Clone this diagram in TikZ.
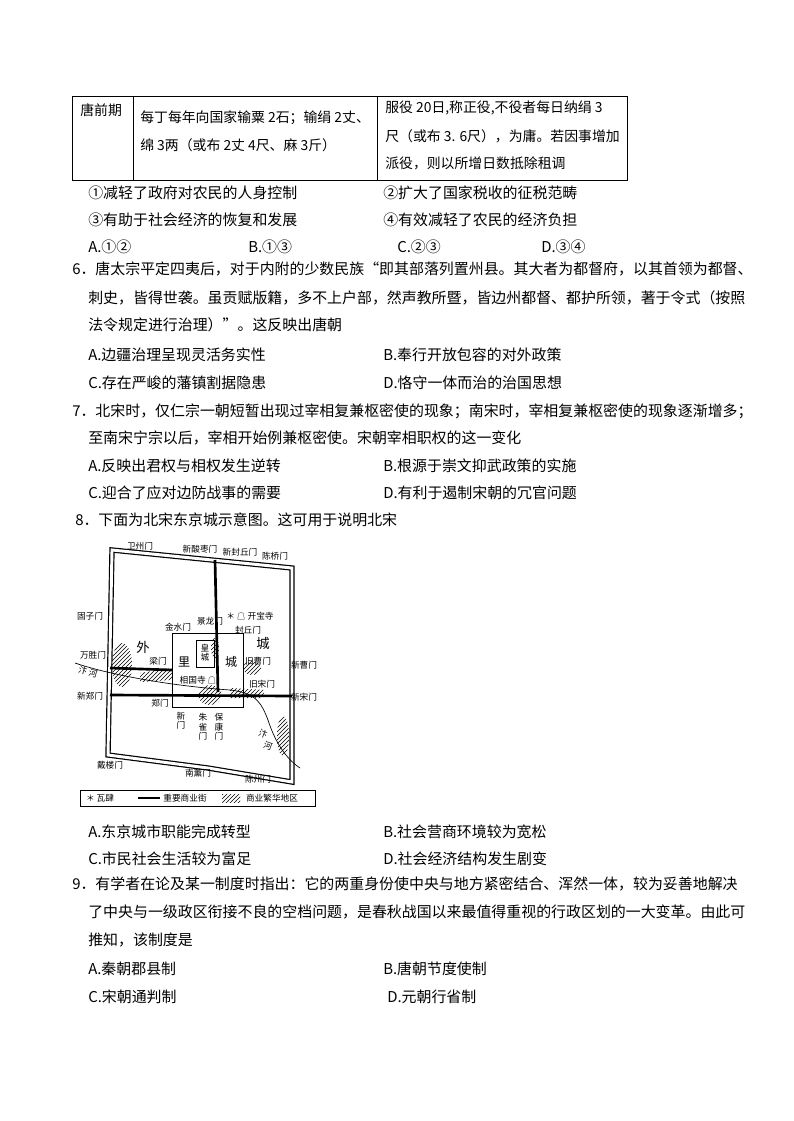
\documentclass[tikz,border=0pt]{standalone}
\usepackage{fontspec}
\setmainfont{Noto Sans CJK SC}
\usetikzlibrary{patterns}
\begin{document}
\begin{tikzpicture}[x=0.75pt,y=-0.75pt,
 tx/.style={anchor=west,inner sep=0pt,font=\fontsize{11.2}{13}\selectfont},
 tb/.style={anchor=west,inner sep=0pt,font=\fontsize{10.4}{13}\selectfont},
 ml/.style={inner sep=0pt,font=\fontsize{6.5}{7}\selectfont},
 street/.style={line width=2pt},
 hatch/.style={pattern=north east lines,draw=none}]
\useasboundingbox[fill=white] (0,0) rectangle (793,1121);
% table
\draw[line width=0.6pt] (72,96) rectangle (627,180) (133,96)--(133,180) (377,96)--(377,180);
\node[tb] (r0) at (80,110) {唐前期};
\node[tb] (r1) at (140,118) {每丁每年向国家输粟 2石；输绢 2丈、};
\node[tb] (r2) at (140,145) {绵 3两（或布 2丈 4尺、麻 3斤）};
\node[tb] (r3) at (385,108) {服役 20日,称正役,不役者每日纳绢 3};
\node[tb] (r4) at (385,136) {尺（或布 3. 6尺），为庸。若因事增加};
\node[tb] (r5) at (385,163) {派役，则以所增日数抵除租调};
\node[tx] (o1) at (88,193) {①减轻了政府对农民的人身控制};
\node[tx] (o2) at (383,193) {②扩大了国家税收的征税范畴};
\node[tx] (o3) at (88,220) {③有助于社会经济的恢复和发展};
\node[tx] (o4) at (383,220) {④有效减轻了农民的经济负担};
\node[tx] (a5) at (88,247) {A.①②};
\node[tx] (b5) at (248,247) {B.①③};
\node[tx] (c5) at (397,247) {C.②③};
\node[tx] (d5) at (541,247) {D.③④};
% Q6
\node[tx] (q6a) at (72,269) {6．唐太宗平定四夷后，对于内附的少数民族“即其部落列置州县。其大者为都督府，以其首领为都督、};
\node[tx] (q6b) at (88,298) {刺史，皆得世袭。虽贡赋版籍，多不上户部，然声教所暨，皆边州都督、都护所领，著于令式（按照};
\node[tx] (q6c) at (88,325) {法令规定进行治理）”。这反映出唐朝};
\node[tx] (a6) at (88,355) {A.边疆治理呈现灵活务实性};
\node[tx] (b6) at (383,355) {B.奉行开放包容的对外政策};
\node[tx] (c6) at (88,383) {C.存在严峻的藩镇割据隐患};
\node[tx] (d6) at (383,383) {D.恪守一体而治的治国思想};
% Q7
\node[tx] (q7a) at (72,411) {7．北宋时，仅仁宗一朝短暂出现过宰相复兼枢密使的现象；南宋时，宰相复兼枢密使的现象逐渐增多；};
\node[tx] (q7b) at (88,438) {至南宋宁宗以后，宰相开始例兼枢密使。宋朝宰相职权的这一变化};
\node[tx] (a7) at (88,466) {A.反映出君权与相权发生逆转};
\node[tx] (b7) at (383,466) {B.根源于崇文抑武政策的实施};
\node[tx] (c7) at (88,493) {C.迎合了应对边防战事的需要};
\node[tx] (d7) at (383,493) {D.有利于遏制宋朝的冗官问题};
\node[tx] (q8) at (75,520) {8．下面为北宋东京城示意图。这可用于说明北宋};
% map
\fill[hatch] (122,665) ellipse (10 and 22);
\fill[hatch] (140,673) -- (172,668) -- (172,680) -- (140,682) -- cycle;
\fill[hatch] (252,668) ellipse (9 and 7);
\fill[hatch] (210,695) ellipse (12 and 10);
\fill[hatch] (215,648) ellipse (4 and 10);
\fill[hatch] (230,688) -- (265,690) -- (262,698) -- (230,698) -- cycle;
\fill[hatch] (283,736) ellipse (6 and 20);
\draw[double=white,double distance=2.2pt,line width=0.9pt] (112,550) -- (292,568) -- (292,782) -- (208,768) -- (108,755) -- cycle;
\draw[line width=0.7pt] (172,633) rectangle (243,707);
\draw[line width=0.7pt] (196,640) rectangle (214,667);
\node[ml,align=center] (hc) at (205,653) {皇\\城};
\draw[line width=0.5pt] (75,663) .. controls (110,675) and (172,686) .. (230,690) .. controls (258,693) and (262,705) .. (268,720) .. controls (276,745) and (288,760) .. (300,768);
\draw[street] (215,560) -- (218,692);
\draw[street] (110,668) -- (172,670);
\draw[street] (110,695) -- (292,696);
\node[ml] (n1) at (140,546) {卫州门};
\node[ml] (n2) at (200,549) {新酸枣门};
\node[ml] (n3) at (240,552) {新封丘门};
\node[ml] (n4) at (275,556) {陈桥门};
\node[ml] (n5) at (90,616) {固子门};
\node[ml] (n6) at (250,616) {＊ ☖ 开宝寺};
\node[ml] (n7) at (210,621) {景龙门};
\node[ml] (n8) at (178,627) {金水门};
\node[ml] (n9) at (248,630) {封丘门};
\node[ml,font=\fontsize{10}{10}\selectfont] (n10) at (143,647) {外};
\node[ml,font=\fontsize{10}{10}\selectfont] (n11) at (263,643) {城};
\node[ml] (n12) at (93,655) {万胜门};
\node[ml] (n13) at (158,661) {梁门};
\node[ml,font=\fontsize{9}{9}\selectfont] (n14) at (184,662) {里};
\node[ml,font=\fontsize{9}{9}\selectfont] (n15) at (231,662) {城};
\node[ml] (n16) at (258,661) {旧曹门};
\node[ml] (n17) at (304,665) {新曹门};
\node[ml,rotate=-15] (n18) at (88,672) {汴 河};
\node[ml] (n19) at (198,680) {相国寺 ☖};
\node[ml] (n20) at (262,684) {旧宋门};
\node[ml] (n21) at (90,696) {新郑门};
\node[ml] (n22) at (304,697) {新宋门};
\node[ml] (n23) at (160,703) {郑门};
\node[ml,align=center] (n24) at (181,721) {新\\门};
\node[ml,align=center] (n25) at (203,727) {朱\\雀\\门};
\node[ml,align=center] (n26) at (219,727) {保\\康\\门};
\node[ml,rotate=-20] (n27a) at (263,734) {汴};
\node[ml,rotate=-20] (n27b) at (268,746) {河};
\node[ml] (n28) at (110,765) {戴楼门};
\node[ml] (n29) at (198,773) {南薰门};
\node[ml] (n30) at (258,779) {陈州门};
\draw[line width=0.6pt] (80,790) rectangle (315,806);
\node[ml] (lg1) at (100,798) {＊ 瓦肆};
\draw[street] (138,798) -- (160,798);
\node[ml] (lg2) at (185,798) {重要商业街};
\fill[hatch] (222,794) rectangle (240,802);
\node[ml] (lg3) at (272,798) {商业繁华地区};
% Q8 options
\node[tx] (a8) at (88,832) {A.东京城市职能完成转型};
\node[tx] (b8) at (383,832) {B.社会营商环境较为宽松};
\node[tx] (c8) at (88,859) {C.市民社会生活较为富足};
\node[tx] (d8) at (383,859) {D.社会经济结构发生剧变};
% Q9
\node[tx] (q9a) at (72,884) {9．有学者在论及某一制度时指出：它的两重身份使中央与地方紧密结合、浑然一体，较为妥善地解决};
\node[tx] (q9b) at (88,912) {了中央与一级政区衔接不良的空档问题，是春秋战国以来最值得重视的行政区划的一大变革。由此可};
\node[tx] (q9c) at (88,940) {推知，该制度是};
\node[tx] (a9) at (88,969) {A.秦朝郡县制};
\node[tx] (b9) at (383,969) {B.唐朝节度使制};
\node[tx] (c9) at (88,997) {C.宋朝通判制};
\node[tx] (d9) at (387,997) {D.元朝行省制};
\end{tikzpicture}
\end{document}
